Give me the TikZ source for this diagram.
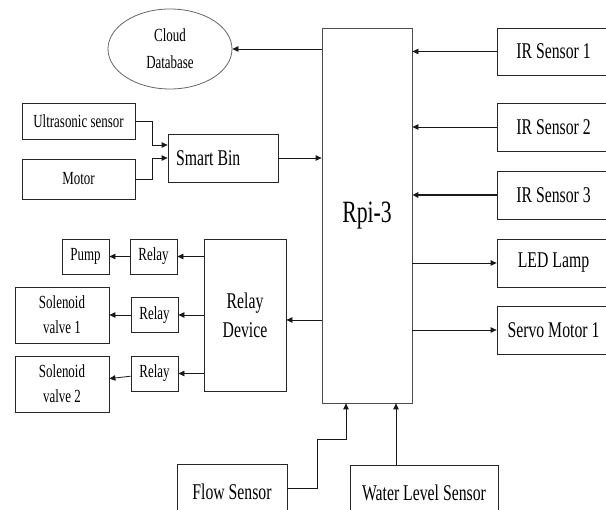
\documentclass[tikz,border=0pt]{standalone}
\usepackage{fontspec}
\setmainfont{Liberation Serif}[FakeStretch=0.7]
\usetikzlibrary{arrows.meta,positioning,shapes.geometric}

\begin{document}
\begin{tikzpicture}[
  x=1pt, y=-1pt,
  block/.style={draw=black!85, line width=0.8pt, inner sep=0pt, align=center, font=\fontsize{22.5}{29}\selectfont},
  small/.style={block, font=\fontsize{18.5}{25}\selectfont},
  side/.style={block, minimum width=113pt, minimum height=48pt},
  relaybox/.style={small, minimum width=47pt, minimum height=35pt},
  store/.style={ellipse, draw=black!60, line width=0.8pt, inner sep=0pt, align=center, font=\fontsize{18.5}{27}\selectfont},
  arr/.style={-{Triangle[length=6pt,width=5.5pt]}, line width=0.8pt, black!90},
  line/.style={line width=0.8pt, black!90}
]
  \useasboundingbox (0,0) rectangle (606,510);
  \clip (0,0) rectangle (606,510);

  % Controller
  \node[block, draw=black!70, minimum width=90pt, minimum height=375pt, font=\fontsize{31}{36}\selectfont] (rpi) at (367,215.5) {Rpi-3};

  % Cloud
  \node[store, minimum width=124pt, minimum height=80pt] (cloud) at (170,49) {Cloud\\Database};

  % Smart bin
  \node[small, minimum width=113pt, minimum height=36pt] (ultra) at (78.5,121) {Ultrasonic sensor};
  \node[small, minimum width=113pt, minimum height=40pt] (motor) at (78.5,179) {Motor};
  \node[block, minimum width=110pt, minimum height=48pt, text width=94pt, align=flush left] (bin) at (223,158) {Smart Bin};

  % Relays
  \node[block, minimum width=82pt, minimum height=152pt] (relaydev) at (245,315) {Relay\\Device};
  \node[relaybox] (relayA) at (153.5,256.5) {Relay};
  \node[relaybox] (relayB) at (154.5,315) {Relay};
  \node[relaybox] (relayC) at (154.5,373.5) {Relay};
  \node[relaybox] (pump) at (85.5,256.5) {Pump};
  \node[small, minimum width=94pt, minimum height=56pt] (valveA) at (62,315) {Solenoid\\valve 1};
  \node[small, minimum width=94pt, minimum height=56pt] (valveB) at (62,384) {Solenoid\\valve 2};

  % Sensors and outputs
  \node[side, minimum height=47pt] (irA) at (553.5,51.5) {IR Sensor 1};
  \node[side] (irB) at (553.5,127) {IR Sensor 2};
  \node[side] (irC) at (553.5,195) {IR Sensor 3};
  \node[side] (led) at (553.5,263) {LED Lamp};
  \node[side] (servo) at (553.5,330) {Servo Motor 1};

  % Bottom sensors
  \node[block, minimum width=110pt, minimum height=56pt] (flow) at (232,492) {Flow Sensor};
  \node[block, minimum width=148pt, minimum height=55pt] (water) at (424,492.5) {Water Level Sensor};

  % Arrows
  \draw[arr] (cloud.east -| rpi.west) -- (cloud.east);
  \draw[arr] (irA.west) -- (irA.west -| rpi.east);
  \draw[arr] (irB.west) -- (irB.west -| rpi.east);
  \draw[arr, line width=1.4pt] (irC.west) -- (irC.west -| rpi.east);
  \draw[arr] (led.west -| rpi.east) -- (led.west);
  \draw[arr] (servo.west -| rpi.east) -- (servo.west);
  \draw[arr] (ultra.east) -- ++(17,0) |- ([yshift=13pt]bin.west);
  \draw[arr] (motor.east) -- ++(17,0) |- (bin.west);
  \draw[arr] (bin.east) -- (bin.east -| rpi.west);
  \draw[arr] ([yshift=-5pt]relaydev.east -| rpi.west) -- ([yshift=-5pt]relaydev.east);
  \draw[arr] (relayA.east -| relaydev.west) -- (relayA.east);
  \draw[arr] (relayB.east -| relaydev.west) -- (relayB.east);
  \draw[arr] (relayC.east -| relaydev.west) -- (relayC.east);
  \draw[arr] (relayA) -- (pump);
  \draw[arr] (relayB) -- (valveA);
  \draw[arr] (relayC) -- (valveB);
  \draw[arr] ([yshift=4pt]flow.east) -- ++(30,0) -- ++(0,-49) -| ([xshift=-21pt]rpi.south);
  \draw[arr] ([xshift=-28pt]water.north) -- ([xshift=29pt]rpi.south);
\end{tikzpicture}
\end{document}
